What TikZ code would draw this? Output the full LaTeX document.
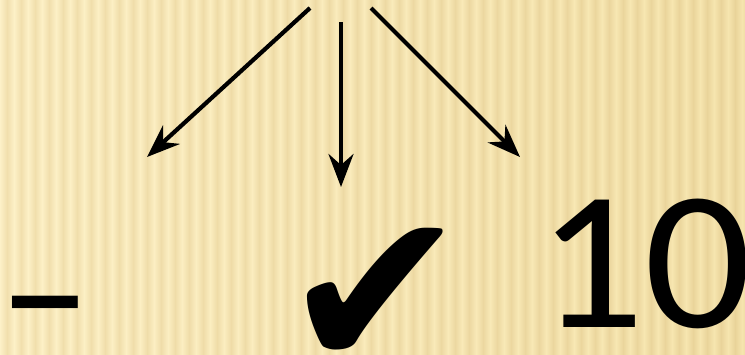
\documentclass[tikz,border=0pt]{standalone}
\usepackage{fontspec}
\setmainfont{Carlito}
\newfontfamily\symfont{DejaVu Sans}
\usetikzlibrary{arrows.meta,positioning}

\definecolor{paleleft}{HTML}{FDF1C8}
\definecolor{paleright}{HTML}{F6E5AE}
\definecolor{ridgeleft}{HTML}{F1DFAD}
\definecolor{ridgeright}{HTML}{E9D399}

\begin{document}
\begin{tikzpicture}[x=1pt,y=-1pt,
    pointer/.style={-{Stealth[length=33pt,width=25pt,inset=11pt]},line width=4.2pt},
    bigtext/.style={font=\fontsize{198}{198}\selectfont,inner sep=0pt,text depth=0pt,anchor=base west}]
    \useasboundingbox (0,0) rectangle (745,354);
    \clip (0,0) rectangle (745,354);

    % corrugated background
    \fill[paleleft] (0,0) rectangle (745,354);
    \foreach \x in {0,14,...,742} {
        \pgfmathtruncatemacro\p{100-\x/745*100}
        \colorlet{pale}{paleleft!\p!paleright}
        \colorlet{ridge}{ridgeleft!\p!ridgeright}
        \shade[left color=pale,right color=ridge] (\x,0) rectangle (\x+7.2,354);
        \shade[left color=ridge,right color=pale] (\x+7,0) rectangle (\x+14.2,354);
    }

    % items
    \node[bigtext] (dash) at (-1,357) {\scalebox{0.93}[1]{–}};
    \node[font=\symfont\fontsize{224}{224}\selectfont,inner sep=0pt,text depth=0pt,anchor=base west] (check) at (281,350) {\raisebox{-19pt}{✔}};
    \node[bigtext] (ten) at (537,327) {\scalebox{1.07}[1]{10}};

    % arrows
    \coordinate (fromleft) at (310,8);
    \coordinate (frommid) at (341,22);
    \coordinate (fromright) at (371,8);
    \coordinate (toleft) at (147,157);
    \coordinate (tomid) at (341,187);
    \coordinate (toright) at (520,157);
    \draw[pointer] (fromleft) -- (toleft);
    \draw[pointer] (frommid) -- (tomid);
    \draw[pointer] (fromright) -- (toright);
\end{tikzpicture}
\end{document}
